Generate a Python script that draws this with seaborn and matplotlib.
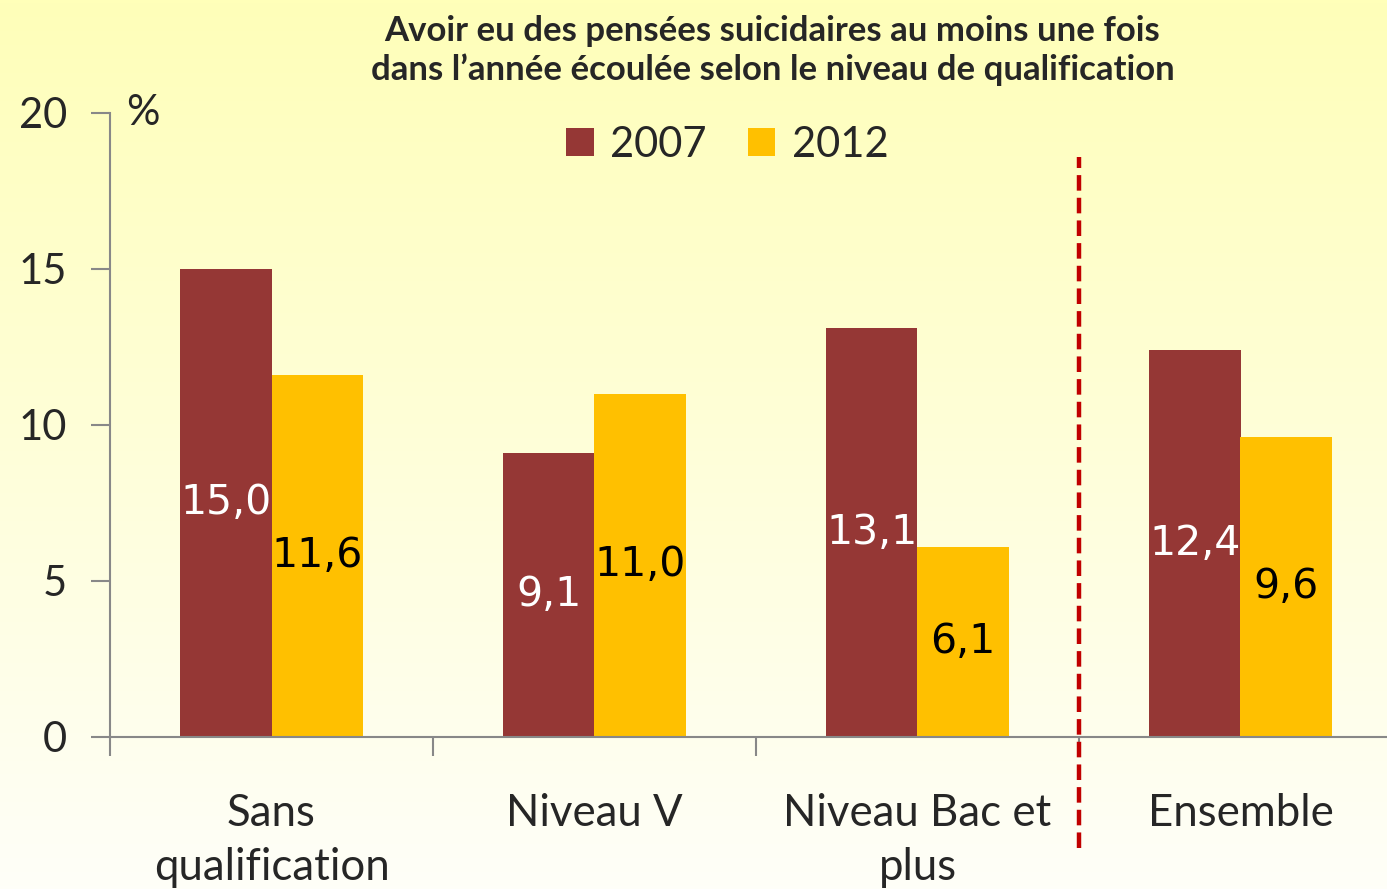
import numpy as np
import pandas as pd
import matplotlib
matplotlib.use('Agg')
import matplotlib.pyplot as plt
import seaborn as sns

# Data
categories = ['Sans\nqualification', 'Niveau V', 'Niveau Bac et\nplus', 'Ensemble']
years = ['2007', '2012']
values_2007 = [15.0, 9.1, 13.1, 12.4]
values_2012 = [11.6, 11.0, 6.1, 9.6]
colors = ['#953735', '#FFC000']

df = pd.DataFrame({
    'categorie': categories * 2,
    'annee': [years[0]] * 4 + [years[1]] * 4,
    'valeur': values_2007 + values_2012,
})

sns.set_style('white')
plt.rcParams['font.family'] = ['Lato', 'DejaVu Sans']

fig = plt.figure(figsize=(13.87, 8.89), dpi=100)

# yellow gradient background
bg = fig.add_axes([0, 0, 1, 1], zorder=-10)
grad = np.linspace(0, 1, 256).reshape(-1, 1)
top = np.array([255, 255, 185]) / 255
bottom = np.array([254, 254, 248]) / 255
img = top[None, None, :] * (1 - grad[:, :, None]) + bottom[None, None, :] * grad[:, :, None]
bg.imshow(img, aspect='auto', extent=[0, 1, 0, 1])
bg.axis('off')

ax = fig.add_axes([110 / 1387, 152 / 889, 1292 / 1387, 624 / 889])
ax.patch.set_alpha(0)

sns.barplot(data=df, x='categorie', y='valeur', hue='annee', palette=colors,
            width=0.565, saturation=1, linewidth=0, ax=ax, legend=True)

for cont, col in zip(ax.containers, ['white', 'black']):
    labels = [f'{v:.1f}'.replace('.', ',') for v in cont.datavalues]
    ax.bar_label(cont, labels=labels, label_type='center', color=col,
                 fontsize=29.5, family='DejaVu Sans')

ax.set_ylim(0, 20)
ax.set_xlim(-0.5, 3.5)
ax.set_yticks([0, 5, 10, 15, 20])
ax.tick_params(axis='y', which='major', length=14, width=1.5, color='#888888',
               labelsize=30, pad=17, direction='out', left=True)
ax.set_xticks(range(4))
ax.set_xticklabels(categories, fontsize=31.5, linespacing=1.4)
ax.tick_params(axis='x', which='major', length=0, pad=40)
ax.set_xticks([-0.5, 0.5, 1.5, 2.5], minor=True)
ax.tick_params(axis='x', which='minor', length=14, width=1.5, color='#888888',
               direction='out', bottom=True)
for lbl in ax.get_yticklabels():
    lbl.set_horizontalalignment('right')

sns.despine(ax=ax, top=True, right=True)
for s in ['left', 'bottom']:
    ax.spines[s].set_color('#888888')
    ax.spines[s].set_linewidth(1.5)
ax.set_xlabel('')
ax.set_ylabel('')

# separator line before "Ensemble"
ax.axvline(2.5, ymin=-0.178, ymax=0.93, color='#C00000', linewidth=3.2,
           linestyle=(0, (3.5, 1.6)), clip_on=False)

ax.text(-0.45, 20, '%', fontsize=30, va='center', ha='left')

ax.legend(loc='upper center', bbox_to_anchor=(0.478, 1.04), ncol=2, frameon=False,
          fontsize=30, handlelength=0.65, handleheight=0.65, columnspacing=1.0,
          handletextpad=0.4)

fig.text(0.557, 0.983, "Avoir eu des pensées suicidaires au moins une fois\n"
         "dans l\u2019année écoulée selon le niveau de qualification",
         ha='center', va='top', fontsize=25, fontweight='bold', linespacing=1.24)

fig.savefig('out.png', dpi=100)
